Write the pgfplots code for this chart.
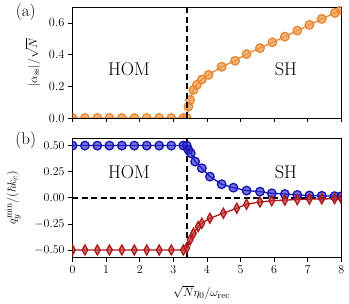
\documentclass[border=0pt]{standalone}
\usepackage{pgfplots}
\pgfplotsset{compat=1.18}
\definecolor{orL}{RGB}{232,135,50}
\definecolor{orM}{RGB}{238,150,70}
\definecolor{blL}{RGB}{20,20,180}
\definecolor{blM}{RGB}{40,40,200}
\definecolor{rdL}{RGB}{175,25,25}
\definecolor{rdM}{RGB}{190,50,50}
\begin{document}
\begin{tikzpicture}
\useasboundingbox (-72.5bp,-46.7bp) rectangle (276.5bp,257.3bp);
\pgfplotsset{
  every axis/.style={scale only axis, width=268.8bp, xmin=0, xmax=8,
    axis line style={line width=0.8pt}, tick style={black, line width=0.7pt},
    tick align=outside, xtick pos=bottom, ytick pos=left,
    major tick length=4.5bp,
    tick label style={font=\fontsize{12.5}{14}\selectfont},
    label style={font=\fontsize{12.5}{14}\selectfont},
    xtick={0,1,...,8}, clip mode=individual, clip marker paths=true},
}
% panel (a)
\begin{axis}[at={(0,139.3bp)}, height=111bp, ymin=0, ymax=0.70,
  ytick={0,0.2,0.4,0.6}, yticklabels={0.0,0.2,0.4,0.6}, xticklabels={},
  ylabel={$|\alpha_{\rm ss}|/\sqrt{N}$}, ylabel style={at={(axis description cs:-0.147,0.5)}, anchor=center}]
\addplot[orL, line width=1.3pt, mark=*, mark size=4.3bp, mark options={fill=orM, draw=none, fill opacity=0.7}] coordinates {
(0,0) (0.37,0) (0.74,0) (1.10,0) (1.47,0) (1.84,0) (2.21,0) (2.58,0) (2.94,0) (3.30,0) (3.40,0)
(3.45,0.072) (3.50,0.114) (3.60,0.177) (3.70,0.209) (3.85,0.243) (4.05,0.272)
(4.44,0.323) (4.84,0.361) (5.18,0.403) (5.58,0.441) (5.95,0.477) (6.32,0.513)
(6.69,0.551) (7.05,0.587) (7.42,0.625) (7.81,0.663) (8.0,0.68)};
\addplot[black, line width=1.7pt, dash pattern=on 6bp off 3.5bp] coordinates {(3.4,0) (3.4,0.70)};
\node[font=\fontsize{18.5}{20}\selectfont] at (axis cs:1.68,0.31) {HOM};
\node[font=\fontsize{18.5}{20}\selectfont] at (axis cs:6.35,0.31) {SH};
\node[font=\fontsize{17}{18}\selectfont] at (axis description cs:-0.174,0.955) {(a)};
\end{axis}
% panel (b)
\begin{axis}[at={(0,0)}, height=119bp, ymin=-0.57, ymax=0.57,
  ytick={-0.5,-0.25,0,0.25,0.5},
  yticklabels={$-0.50$,$-0.25$,$0.00$,$0.25$,$0.50$},
  xlabel={$\sqrt{N}\eta_0/\omega_{\rm rec}$},
  xlabel style={at={(axis description cs:0.48,0)}, anchor=center, yshift=-35bp},
  ylabel={$q_y^{\rm min}/(\hbar k_c)$}, ylabel style={at={(axis description cs:-0.221,0.5)}, anchor=center}]
\addplot[black, line width=1.7pt, dash pattern=on 6bp off 3.5bp] coordinates {(0,0) (8,0)};
\addplot[black, line width=1.7pt, dash pattern=on 6bp off 3.5bp] coordinates {(3.4,-0.57) (3.4,0.57)};
\addplot[blL, line width=1.3pt, mark=*, mark size=4.3bp, mark options={fill=blM, draw=none, fill opacity=0.65}] coordinates {
(0,0.5) (0.37,0.5) (0.74,0.5) (1.10,0.5) (1.47,0.5) (1.84,0.5) (2.21,0.5) (2.58,0.5) (2.94,0.5) (3.30,0.5) (3.40,0.5)
(3.45,0.459) (3.52,0.427) (3.65,0.347) (3.85,0.283) (4.09,0.203) (4.44,0.130) (4.79,0.097)
(5.18,0.069) (5.58,0.059) (5.93,0.043) (6.32,0.036) (6.69,0.027) (7.05,0.022) (7.42,0.019) (7.80,0.016) (8.0,0.015)};
\addplot[rdL, line width=1.3pt, mark=diamond*, mark size=5bp, mark options={fill=rdM, draw=none, fill opacity=0.65, xscale=0.75}] coordinates {
(0,-0.5) (0.37,-0.5) (0.74,-0.5) (1.10,-0.5) (1.47,-0.5) (1.84,-0.5) (2.21,-0.5) (2.58,-0.5) (2.94,-0.5) (3.30,-0.5) (3.40,-0.48)
(3.50,-0.404) (3.60,-0.34) (3.74,-0.276) (3.85,-0.244) (4.09,-0.196) (4.49,-0.148) (4.89,-0.100)
(5.18,-0.062) (5.58,-0.040) (5.93,-0.029) (6.32,-0.022) (6.69,-0.017) (7.05,-0.013) (7.42,-0.011) (7.80,-0.009) (8.0,-0.008)};
\node[font=\fontsize{18.5}{20}\selectfont] at (axis cs:1.68,0.241) {HOM};
\node[font=\fontsize{18.5}{20}\selectfont] at (axis cs:6.35,0.241) {SH};
\node[font=\fontsize{17}{18}\selectfont] at (axis description cs:-0.174,0.98) {(b)};
\end{axis}
\end{tikzpicture}
\end{document}
